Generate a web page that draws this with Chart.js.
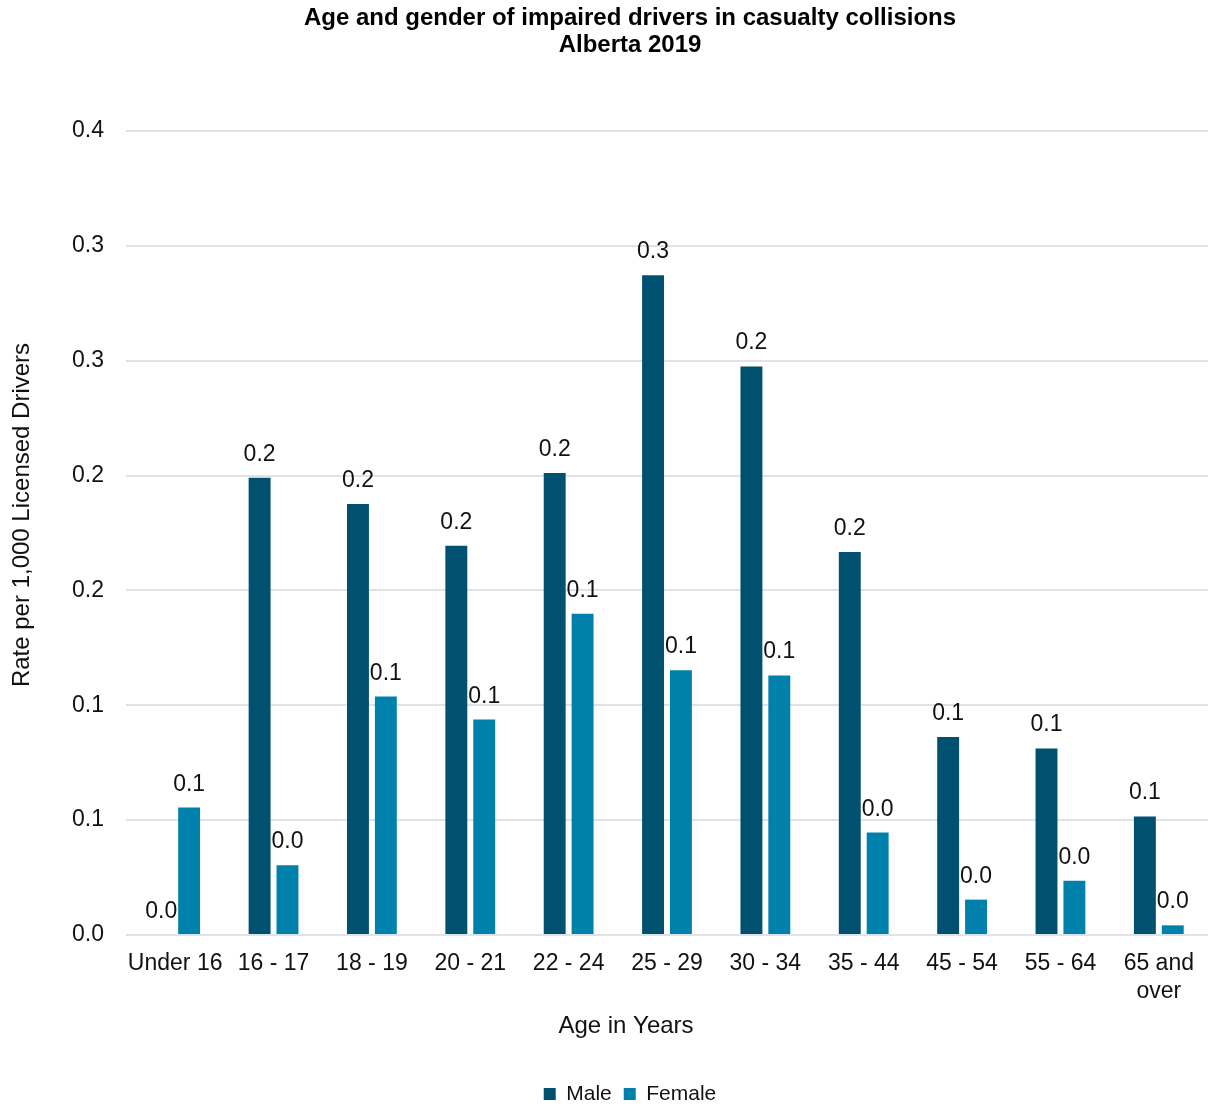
<!DOCTYPE html>
<html>
<head>
<meta charset="utf-8">
<title>Age and gender of impaired drivers in casualty collisions, Alberta 2019</title>
<script src="https://cdn.jsdelivr.net/npm/chart.js@4/dist/chart.umd.min.js"></script>
<style>
  html, body { margin: 0; padding: 0; background: #fff; }
  #wrap { width: 1208px; height: 1107px; }
</style>
</head>
<body>
<div id="wrap"><canvas id="chart" width="1208" height="1107"></canvas></div>
<script>
// Age groups (x axis)
const ageGroups = ['Under 16', '16 - 17', '18 - 19', '20 - 21', '22 - 24', '25 - 29',
  '30 - 34', '35 - 44', '45 - 54', '55 - 64', ['65 and', 'over']];

// Rate per 1,000 licensed drivers
const maleRates = [0.0, 0.199, 0.1876, 0.1694, 0.2011, 0.2872, 0.2475, 0.1667, 0.0862, 0.0812, 0.0516];
const femaleRates = [0.0555, 0.0304, 0.1038, 0.0938, 0.1399, 0.1153, 0.113, 0.0446, 0.0154, 0.0236, 0.0042];

// Y axis tick text, one decimal place as printed on the axis
const yTickLabels = ['0.0', '0.1', '0.1', '0.2', '0.2', '0.3', '0.3', '0.4'];

const titleLines = ['Age and gender of impaired drivers in casualty collisions', 'Alberta 2019'];
const xAxisTitle = 'Age in Years';
const yAxisTitle = 'Rate per 1,000 Licensed Drivers';

const FONT = '"Liberation Sans", Arial, Helvetica, sans-serif';
const MALE_COLOR = '#00506F';
const FEMALE_COLOR = '#0081AB';

// Value labels above each bar
const barValueLabels = {
  id: 'barValueLabels',
  afterDatasetsDraw(chart) {
    const ctx = chart.ctx;
    ctx.save();
    ctx.font = '23px ' + FONT;
    ctx.fillStyle = '#111';
    ctx.textAlign = 'center';
    ctx.textBaseline = 'alphabetic';
    chart.data.datasets.forEach((ds, di) => {
      const meta = chart.getDatasetMeta(di);
      meta.data.forEach((bar, i) => {
        ctx.fillText(ds.data[i].toFixed(1), bar.x, bar.y - 17);
      });
    });
    ctx.restore();
  }
};

// Axis titles, placed relative to the plot area
const axisTitles = {
  id: 'axisTitles',
  afterDraw(chart) {
    const ctx = chart.ctx;
    const area = chart.chartArea;
    ctx.save();
    ctx.font = '24px ' + FONT;
    ctx.fillStyle = '#111';
    ctx.textAlign = 'center';
    ctx.textBaseline = 'middle';
    ctx.fillText(xAxisTitle, (area.left + area.right) / 2 - 41, area.bottom + 91);
    ctx.translate(22, (area.top + area.bottom) / 2 - 18);
    ctx.rotate(-Math.PI / 2);
    ctx.fillText(yAxisTitle, 0, 0);
    ctx.restore();
  }
};

new Chart(document.getElementById('chart'), {
  type: 'bar',
  data: {
    labels: ageGroups,
    datasets: [
      { label: 'Male', data: maleRates, backgroundColor: MALE_COLOR,
        categoryPercentage: 0.567, barPercentage: 0.786 },
      { label: 'Female', data: femaleRates, backgroundColor: FEMALE_COLOR,
        categoryPercentage: 0.567, barPercentage: 0.786 }
    ]
  },
  options: {
    responsive: false,
    animation: false,
    layout: { padding: { left: 48, right: -4, top: 0, bottom: -7.5 } },
    plugins: {
      title: {
        display: true,
        text: titleLines,
        color: '#000',
        font: { family: FONT, size: 24, weight: 'bold', lineHeight: 1.125 },
        padding: { top: 5, bottom: 72 }
      },
      legend: {
        position: 'bottom',
        labels: {
          boxWidth: 12, boxHeight: 12, padding: 12,
          color: '#111',
          font: { family: FONT, size: 21 }
        }
      },
      tooltip: { enabled: false }
    },
    scales: {
      x: {
        grid: { display: false, drawTicks: false },
        border: { display: false },
        ticks: {
          color: '#111',
          font: { family: FONT, size: 23, lineHeight: 1.25 },
          padding: 14,
          maxRotation: 0,
          autoSkip: false
        },
        afterFit(scale) { scale.height = 136.5; }
      },
      y: {
        min: 0,
        max: 0.35,
        grid: { color: '#dfe3e7', lineWidth: 2, drawTicks: false },
        border: { display: false },
        ticks: {
          stepSize: 0.05,
          color: '#111',
          padding: 22,
          font: { family: FONT, size: 23 },
          callback: (v, i) => yTickLabels[i]
        },
        afterFit(scale) { scale.width = 78; }
      }
    }
  },
  plugins: [barValueLabels, axisTitles]
});
</script>
</body>
</html>
